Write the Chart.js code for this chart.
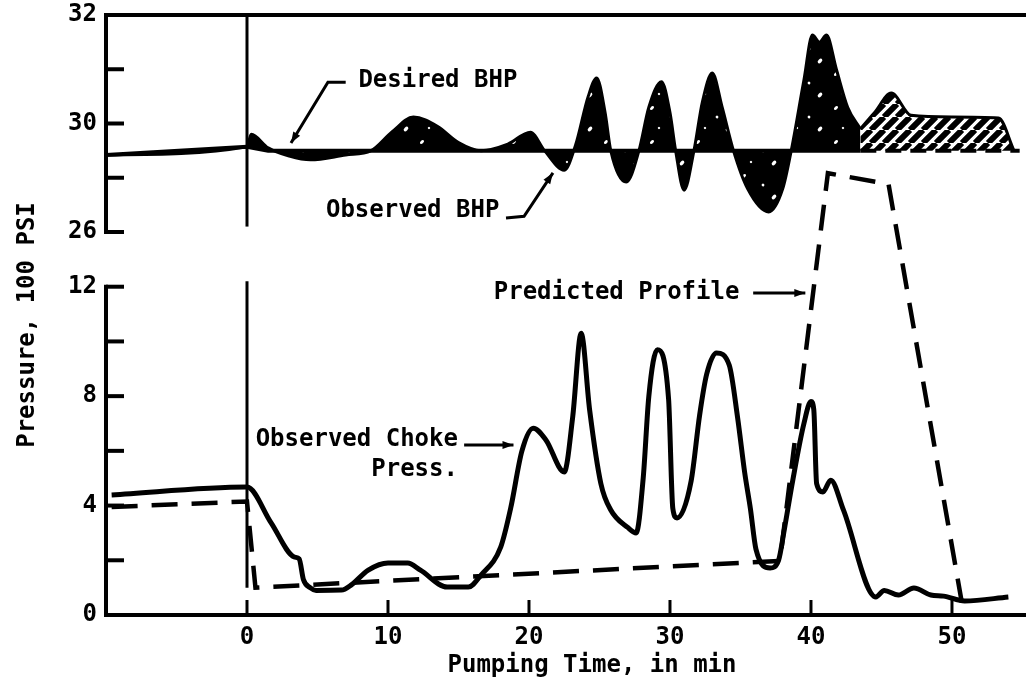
<!DOCTYPE html>
<html>
<head>
<meta charset="utf-8">
<script src="https://cdn.jsdelivr.net/npm/chart.js@4.4.1/dist/chart.umd.min.js"></script>
<style>
  html, body { margin: 0; padding: 0; background: #fff; }
  #chart { display: block; }
</style>
</head>
<body>
<canvas id="chart" width="1026" height="694"></canvas>
<script>
// --- top panel: bottom-hole pressure, 100 psi ---
const bhpTime = [-10, 0, 0.3, 1.5, 3, 4.5, 7, 8.8, 10.3, 11.8, 13.5, 15, 16.6, 18.5, 20.1, 21.1, 22.5, 23.3, 24.2, 24.8,
  25.4, 25.8, 26.9, 27.8, 28.5, 29.4, 30, 30.4, 31, 31.7, 32.3, 33, 33.7, 34.5, 35.5, 37, 38, 38.6, 39.5, 40.1,
  40.6, 41.1, 41.8, 42.6, 43.5, 44.5, 45.7, 47.1, 50, 53.3, 54.4];
const bhpObserved = [29.42, 29.57, 29.8, 29.55, 29.4, 29.33, 29.42, 29.5, 29.85, 30.12, 29.95, 29.65, 29.5, 29.62, 29.84, 29.5, 29.14, 29.6, 30.5, 30.84,
  30.2, 29.5, 28.92, 29.5, 30.3, 30.77, 30.2, 29.5, 28.77, 29.5, 30.4, 30.93, 30.3, 29.5, 28.8, 28.37, 28.8, 29.5, 30.8, 31.63,
  31.5, 31.63, 31.0, 30.3, 29.9, 30.2, 30.56, 30.15, 30.12, 30.1, 29.5];
const desiredTime = [-10, 0, 1.5, 43.5, 54.8];
const desiredBhp = [29.42, 29.57, 29.5, 29.5, 29.5];
const hatchFrom = 43.5;   // plateau part is hatched instead of solid

// --- bottom panel: choke pressure, 100 psi ---
const chokeTime = [-9.6, 0, 1.7, 3.35, 3.7, 4.0, 4.5, 4.9, 6.7, 7.4, 8.6, 10, 11.4, 12.3, 14.2, 15.7, 16.6, 18, 18.7, 19.5, 20.3,
  21.2, 22.5, 23.1, 23.7, 24.3, 25.1, 25.8, 27, 27.6, 28.1, 28.5, 29.1, 29.9, 30.2, 30.5, 31.5, 32.1, 32.6, 33.3, 34.2,
  34.8, 35.3, 35.7, 36.1, 37.1, 37.7, 38.1, 38.7, 39.5, 40.0, 40.2, 40.4, 40.85, 41.4, 42.3, 44.6, 45.2, 46.2, 47.3, 48.5,
  49.4, 50.9, 54];
const chokePress = [4.39, 4.68, 3.38, 2.12, 2.05, 1.3, 0.99, 0.9, 0.91, 1.1, 1.64, 1.9, 1.9, 1.64, 1.02, 1.02, 1.46, 2.49, 3.9, 6.0, 6.83,
  6.4, 5.23, 7.24, 10.3, 7.5, 4.8, 3.84, 3.2, 3.0, 5.0, 8.0, 9.7, 7.9, 3.9, 3.55, 4.9, 7.3, 8.8, 9.58, 9.14,
  7.2, 5.2, 3.9, 2.4, 1.72, 2.0, 3.1, 4.9, 7.0, 7.8, 7.5, 4.8, 4.5, 4.93, 3.84, 0.66, 0.9, 0.73, 0.99, 0.73,
  0.69, 0.51, 0.66];
const predTime = [-9.6, 0, 0.6, 37.8, 41.2, 45.5, 50.7];
const predPress = [3.95, 4.15, 1.0, 1.98, 16.15, 15.75, 0.45];

// --- axes ---
const xTicks = [0, 10, 20, 30, 40, 50];
const topTicks = [28, 29, 30, 31, 32];
const topTickLabels = ['26', '', '30', '', '32'];
const botTicks = [0, 2, 4, 6, 8, 10, 12];
const botTickLabels = ['0', '', '4', '', '8', '', '12'];

// --- callouts (data units) ---
const notes = [
  { text: 'Desired BHP', t: 7.9, v: 30.78, axis: 'yTop', align: 'left' },
  { text: 'Observed BHP', t: 5.6, v: 28.39, axis: 'yTop', align: 'left' },
  { text: 'Predicted Profile', t: 17.5, v: 11.77, axis: 'yBot', align: 'left' },
  { text: 'Observed Choke', t: 14.96, v: 6.4, axis: 'yBot', align: 'right' },
  { text: 'Press.', t: 14.96, v: 5.3, axis: 'yBot', align: 'right' }
];
const leaders = [
  { axis: 'yTop', t: [7.0, 5.74, 3.12], v: [30.76, 30.76, 29.64] },
  { axis: 'yTop', t: [18.37, 19.65, 21.7], v: [28.26, 28.29, 29.09] },
  { axis: 'yBot', t: [35.9, 39.6], v: [11.77, 11.77] },
  { axis: 'yBot', t: [15.4, 18.9], v: [6.21, 6.21] }
];

const ink = '#000';
const FONT = "'DejaVu Sans Mono', monospace";
const pts = (xs, ys) => xs.map((x, i) => ({ x, y: ys[i] }));

function makeSpeckle() {
  const c = document.createElement('canvas');
  c.width = 46; c.height = 34;
  const g = c.getContext('2d');
  g.fillStyle = ink; g.fillRect(0, 0, 46, 34);
  g.fillStyle = '#fff';
  [[8, 6, 2.4, 1.5], [27, 15, 1.4, 1.4], [38, 27, 2.8, 1.7], [15, 26, 1.2, 1.2]].forEach(([x, y, rx, ry]) => {
    g.beginPath(); g.ellipse(x, y, rx, ry, -0.8, 0, Math.PI * 2); g.fill();
  });
  return g.createPattern(c, 'repeat');
}

function makeHatch() {
  const s = 13;
  const c = document.createElement('canvas');
  c.width = s; c.height = s;
  const g = c.getContext('2d');
  g.fillStyle = '#fff'; g.fillRect(0, 0, s, s);
  g.strokeStyle = ink; g.lineWidth = 6;
  g.beginPath();
  for (let k = -1; k <= 1; k++) { g.moveTo(k * s, s); g.lineTo(k * s + s, 0); }
  g.stroke();
  return g.createPattern(c, 'repeat');
}

const speckle = makeSpeckle();
const hatch = makeHatch();

const obsA = pts(bhpTime, bhpObserved).filter(p => p.x <= hatchFrom);
const obsB = pts(bhpTime, bhpObserved).filter(p => p.x >= hatchFrom);

function arrowHead(ctx, x0, y0, x1, y1) {
  const a = Math.atan2(y1 - y0, x1 - x0);
  ctx.beginPath();
  ctx.moveTo(x1, y1);
  ctx.lineTo(x1 - 11 * Math.cos(a) + 4 * Math.sin(a), y1 - 11 * Math.sin(a) - 4 * Math.cos(a));
  ctx.lineTo(x1 - 11 * Math.cos(a) - 4 * Math.sin(a), y1 - 11 * Math.sin(a) + 4 * Math.cos(a));
  ctx.closePath();
  ctx.fill();
}

const frame = {
  id: 'frame',
  afterDatasetsDraw(chart) {
    const { ctx, chartArea: a, scales } = chart;
    const x = scales.x, yTop = scales.yTop, yBot = scales.yBot;
    const seg = (p) => {
      ctx.beginPath();
      p.forEach(([px, py], i) => (i ? ctx.lineTo(px, py) : ctx.moveTo(px, py)));
      ctx.stroke();
    };
    ctx.save();
    ctx.strokeStyle = ink; ctx.fillStyle = ink;
    ctx.lineCap = 'square';

    // axes lines
    ctx.lineWidth = 4;
    const t32 = yTop.getPixelForValue(32), t28 = yTop.getPixelForValue(28);
    const b12 = yBot.getPixelForValue(12), b0 = yBot.getPixelForValue(0);
    seg([[a.right, t32], [a.left, t32], [a.left, t28]]);
    seg([[a.left, b12], [a.left, b0], [a.right, b0]]);

    // inward ticks
    ctx.lineWidth = 4;
    ctx.lineCap = 'butt';
    yTop.ticks.forEach(tk => {
      const py = yTop.getPixelForValue(tk.value);
      seg([[a.left, py], [a.left + 18, py]]);
    });
    yBot.ticks.forEach(tk => {
      const py = yBot.getPixelForValue(tk.value);
      seg([[a.left, py], [a.left + 18, py]]);
    });
    ctx.lineWidth = 3;
    x.ticks.forEach(tk => {
      const px = x.getPixelForValue(tk.value);
      seg([[px, b0], [px, b0 - 15]]);
    });

    // start-of-pumping line
    const x0 = x.getPixelForValue(0);
    seg([[x0, t32], [x0, yTop.getPixelForValue(28.1)]]);
    seg([[x0, yBot.getPixelForValue(12.2)], [x0, yBot.getPixelForValue(1.0)]]);

    // callout leaders
    ctx.lineWidth = 3;
    leaders.forEach(l => {
      const sc = scales[l.axis];
      const p = l.t.map((t, i) => [x.getPixelForValue(t), sc.getPixelForValue(l.v[i])]);
      seg(p);
      const n = p.length;
      arrowHead(ctx, p[n - 2][0], p[n - 2][1], p[n - 1][0], p[n - 1][1]);
    });

    // callout text
    ctx.font = 'bold 24px ' + FONT;
    ctx.textBaseline = 'middle';
    notes.forEach(nt => {
      ctx.textAlign = nt.align;
      ctx.fillText(nt.text, x.getPixelForValue(nt.t), scales[nt.axis].getPixelForValue(nt.v));
    });

    // axis titles
    ctx.textAlign = 'center';
    ctx.textBaseline = 'alphabetic';
    ctx.fillText('Pumping Time, in min', 592, 672);
    ctx.translate(34, 325);
    ctx.rotate(-Math.PI / 2);
    ctx.fillText('Pressure, 100 PSI', 0, 0);
    ctx.restore();
  }
};

const tickFont = { family: FONT, size: 24, weight: 'bold' };
const noVPad = s => { s.width = 106; s.paddingTop = 0; s.paddingBottom = 0; };

new Chart(document.getElementById('chart'), {
  type: 'line',
  data: {
    datasets: [
      {
        label: 'Desired BHP', yAxisID: 'yTop',
        data: pts(desiredTime, desiredBhp),
        borderColor: ink, borderWidth: 4, tension: 0, pointRadius: 0, fill: false,
        segment: { borderDash: c => (c.p0.parsed.x >= hatchFrom ? [16, 9] : undefined) }
      },
      {
        label: 'Observed BHP', yAxisID: 'yTop',
        data: obsA,
        borderColor: ink, borderWidth: 3, pointRadius: 0, cubicInterpolationMode: 'monotone',
        backgroundColor: speckle,
        fill: { target: 0, above: speckle, below: speckle }
      },
      {
        label: 'Observed BHP (plateau)', yAxisID: 'yTop',
        data: obsB,
        borderColor: ink, borderWidth: 3, pointRadius: 0, cubicInterpolationMode: 'monotone',
        backgroundColor: hatch,
        fill: { target: 0, above: hatch, below: hatch }
      },
      {
        label: 'Observed Choke Press.', yAxisID: 'yBot',
        data: pts(chokeTime, chokePress),
        borderColor: ink, borderWidth: 5, pointRadius: 0, cubicInterpolationMode: 'monotone',
        fill: false
      },
      {
        label: 'Predicted Profile', yAxisID: 'yBot',
        data: pts(predTime, predPress),
        borderColor: ink, borderWidth: 4.5, borderDash: [26, 14], tension: 0, pointRadius: 0,
        fill: false, clip: false
      }
    ]
  },
  options: {
    responsive: false,
    animation: false,
    devicePixelRatio: 1,
    layout: { padding: { top: 15, right: 0, bottom: 0, left: 0 } },
    plugins: { legend: { display: false }, tooltip: { enabled: false } },
    scales: {
      x: {
        type: 'linear', min: -10, max: 55.25,
        grid: { display: false, drawTicks: false },
        border: { display: false },
        afterBuildTicks: s => { s.ticks = xTicks.map(v => ({ value: v })); },
        afterFit: s => { s.height = 79; s.paddingLeft = 0; s.paddingRight = 0; },
        ticks: { autoSkip: false, maxRotation: 0, padding: 8, color: ink, font: tickFont }
      },
      yBot: {
        type: 'linear', position: 'left', stack: 'p', stackWeight: 383,
        min: 0, max: 14,
        grid: { display: false, drawTicks: false },
        border: { display: false },
        afterBuildTicks: s => { s.ticks = botTicks.map(v => ({ value: v })); },
        afterFit: noVPad,
        ticks: {
          autoSkip: false, padding: 9, color: ink, font: tickFont,
          callback: v => botTickLabels[botTicks.indexOf(v)] ?? ''
        }
      },
      yTop: {
        type: 'linear', position: 'left', stack: 'p', stackWeight: 217,
        min: 28, max: 32,
        grid: { display: false, drawTicks: false },
        border: { display: false },
        afterBuildTicks: s => { s.ticks = topTicks.map(v => ({ value: v })); },
        afterFit: noVPad,
        ticks: {
          autoSkip: false, padding: 9, color: ink, font: tickFont,
          callback: v => topTickLabels[topTicks.indexOf(v)] ?? ''
        }
      }
    }
  },
  plugins: [frame]
});
</script>
</body>
</html>
